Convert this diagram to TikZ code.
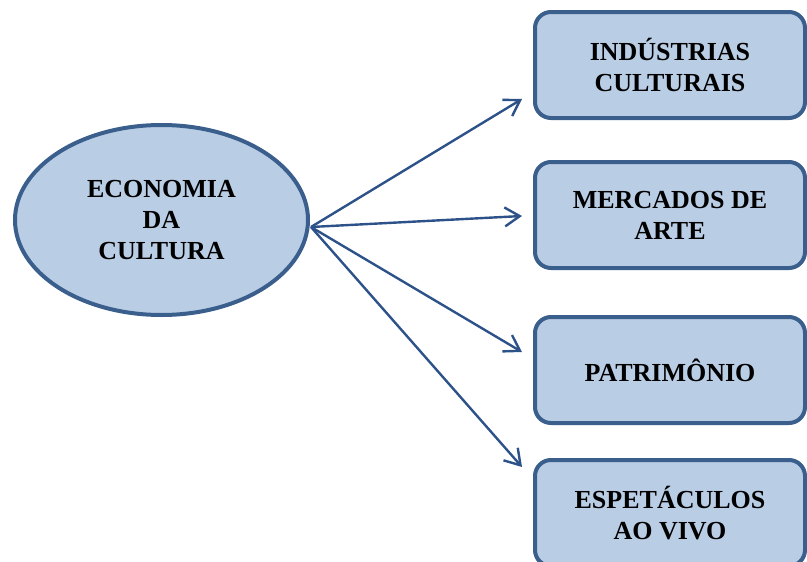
\documentclass[tikz,border=0pt]{standalone}
\usepackage{fontspec}
\setmainfont{Liberation Serif}
\usepackage{xcolor}
\usetikzlibrary{arrows.meta, shapes.geometric}
\definecolor{boxfill}{HTML}{B9CDE5}
\definecolor{boxline}{HTML}{3A5F8D}
\definecolor{arrowline}{HTML}{2D5289}

\begin{document}
\begin{tikzpicture}[x=1pt, y=-1pt,
    label font/.style={font=\bfseries\fontsize{26}{31}\selectfont},
    area/.style={draw=boxline, fill=boxfill, line width=4pt, rounded corners=16pt,
        minimum width=270pt, minimum height=106pt, inner sep=0pt, align=center, label font},
    hub/.style={ellipse, draw=boxline, fill=boxfill, line width=4pt,
        minimum width=293pt, minimum height=190pt, inner sep=0pt, align=center, label font},
    link/.style={draw=arrowline, line width=2.4pt, -{Straight Barb[length=15pt,width=19pt]}}]
            \clip (0, 0) rectangle (807, 562);

            \node[hub] (eco) at (161.5, 220) {ECONOMIA\\DA\\CULTURA};

            \node[area] (ind) at (670, 65) {INDÚSTRIAS\\CULTURAIS};
            \node[area] (mer) at (670, 215) {MERCADOS DE\\ARTE};
            \node[area] (pat) at (670, 370) {PATRIMÔNIO};
            \node[area] (esp) at (670, 513) {ESPETÁCULOS\\AO VIVO};

            \coordinate (src) at ([xshift=1pt, yshift=-7pt]eco.east);
            \foreach \b/\s in {ind/-34, mer/-1, pat/18, esp/46} {
                \coordinate (\b-tip) at ([xshift=-11pt, yshift=\s pt]\b.west);
                \draw[link] (src) -- (\b-tip);
            };
        \end{tikzpicture}
\end{document}
